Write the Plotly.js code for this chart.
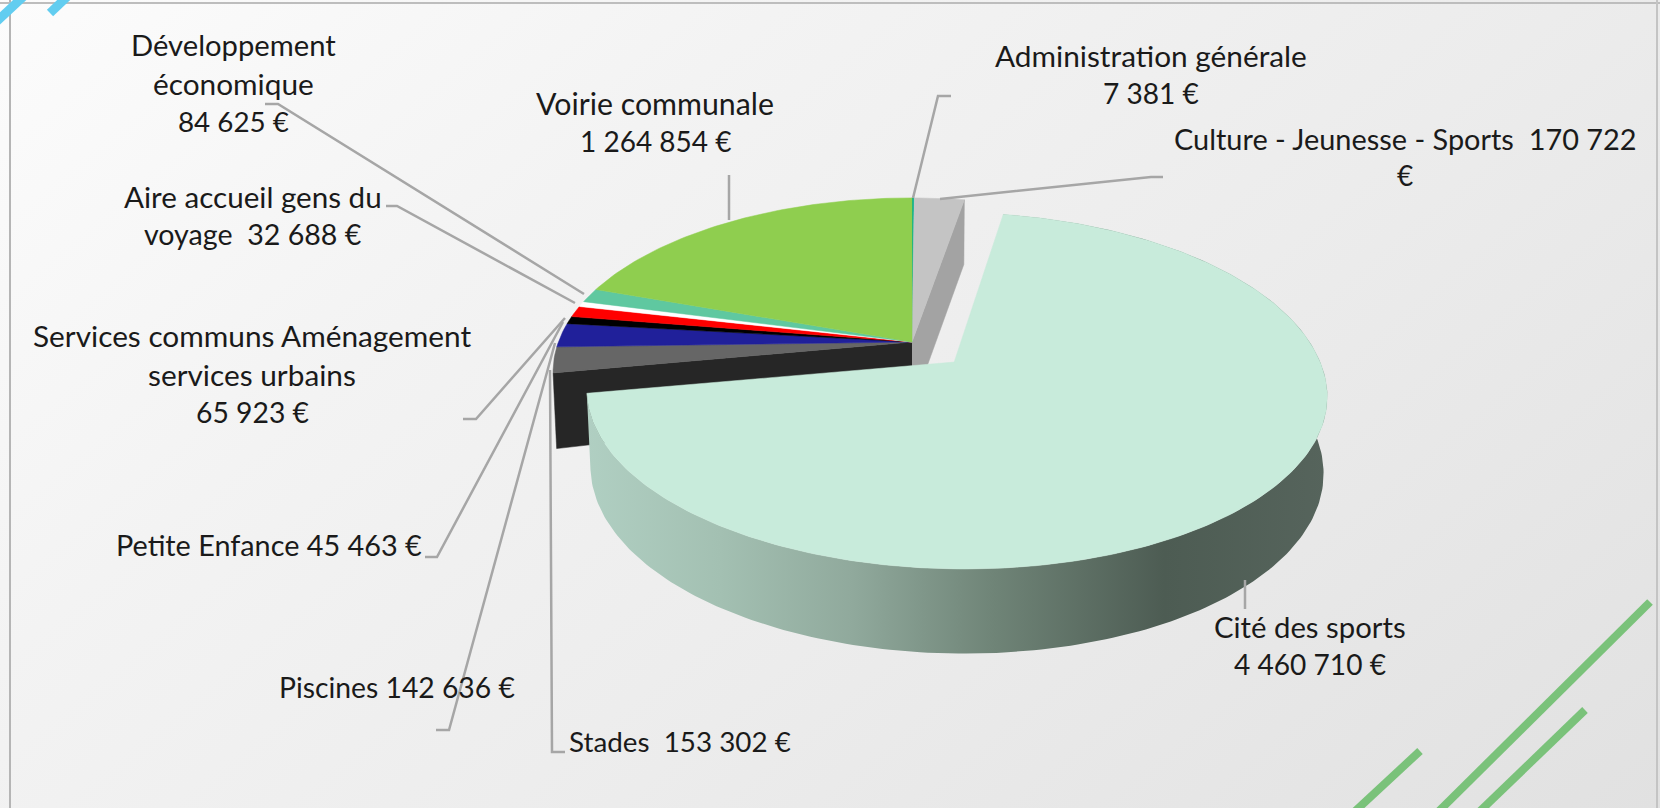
<!DOCTYPE html>
<html lang="fr">
<head>
<meta charset="utf-8">
<script src="https://cdn.plot.ly/plotly-3.0.1.min.js"></script>
<style>
html,body{margin:0;padding:0;width:1660px;height:808px;overflow:hidden;background:#fff}
#chart{width:1660px;height:808px;background:linear-gradient(140deg,#fcfcfc 0%,#f3f3f3 30%,#ececec 60%,#e1e1e1 100%)}
</style>
</head>
<body>
<div id="chart"></div>
<script>
// ---- chart values, clockwise from 12 o'clock ----
const categories = ["Administration générale","Culture - Jeunesse - Sports","Cité des sports","Stades","Piscines","Petite Enfance","Services communs Aménagement services urbains","Aire accueil gens du voyage","Développement économique","Voirie communale"];
const values = [7381,170722,4460710,153302,142636,45463,65923,32688,84625,1264854];
const sliceColors = ["#00b08c","#c4c4c4","#c8ebdb","#666666","#20209a","#000000","#ff0000","#ffffff","#5fc8a0","#8fce4f"];

// ---- label text lines; # stands for the formatted value ----
const labelLines = [
  ["Administration générale", "#"],
  ["Culture - Jeunesse - Sports\u00a0\u00a0#TOP", "€"],
  ["Cité des sports", "#"],
  ["Stades\u00a0\u00a0#"],
  ["Piscines #"],
  ["Petite Enfance #"],
  ["Services communs Aménagement", "services urbains", "#"],
  ["Aire accueil gens du", "voyage\u00a0\u00a0#"],
  ["Développement", "économique", "#"],
  ["Voirie communale", "#"]
];
const labelX = [1151,1405,1310,680,397,269,252,253,233,655];
const labelY = [[55,93],[138,175],[626,664],[741],[687],[545],[335,374,412],[196,234],[44,83,121],[103,141]];
const labelSize = [[29.8,28.1],[28.9,28],[29.3,28.1],[27.8],[28.3],[28.8],[29.8,29.8,28.3],[29.6,28.6],[29.2,29.8,27.8],[30.3,28]];

// ---- leader polylines (page layout) ----
const leaderX = [[951,938,913],[1163,1151,940],[1245,1245],[565,552,550],[436,449,555],[425,437,563],[463,476,565],[386,397,575],[265,278,584],[729,729]];
const leaderY = [[96,96,198],[177,177,199],[609,580],[752,752,370],[730,730,343],[557,557,322],[419,419,318],[206,206,303],[104,104,294],[175,220]];

// ---- 3D projection settings ----
const apexX = 912, apexY = 342, rimA = 353.6, rimB = 168.9, persp = 0.172, pullDist = 0.165;
const pulledIndex = 2;
const pulledScaleX = 1.0101, pulledCenterX = 957, pulledScaleFront = 0.97, wallInset = 0.99;
const font = "Lato, Carlito, Calibri, sans-serif";

const total = values.reduce((a, b) => a + b, 0);
const rad = d => d * Math.PI / 180;
const fmt = v => String(v).replace(/\B(?=(\d{3})+$)/g, "\u00a0") + "\u00a0€";

function project(u, v) {
  const den = 1 + persp * v;
  return [apexX + rimA * u / den, apexY - rimB * v / den];
}
function rimPoint(theta, du, dv) {
  return project(Math.sin(rad(theta)) + du, Math.cos(rad(theta)) + dv);
}
function depth(v) { return 74 - 9.5 * v; }
function arcAngles(a, b) {
  const out = [];
  const n = Math.max(2, Math.ceil((b - a)));
  for (let i = 0; i <= n; i++) out.push(a + (b - a) * i / n);
  return out;
}

// slice angles from the values
const angles = [];
let acc = 0;
values.forEach(v => { const s = acc / total * 360; acc += v; angles.push([s, acc / total * 360]); });

const traces = [];
const pulledMid = (angles[pulledIndex][0] + angles[pulledIndex][1]) / 2;
const du = pullDist * Math.sin(rad(pulledMid)), dv = pullDist * Math.cos(rad(pulledMid));

// cut faces of the rest of the pie, on both sides of the pulled slice
function cutFace(theta, color, name) {
  const p = rimPoint(theta, 0, 0);
  const v = Math.cos(rad(theta));
  traces.push({
    type: "scatter", mode: "lines", fill: "toself", fillcolor: color, line: {color: color, width: 0.5},
    x: [apexX, p[0], p[0] + (apexX - p[0]) * 0.01, apexX],
    y: [apexY, p[1], p[1] + depth(v), apexY + 66],
    hoverinfo: "skip", showlegend: false, name: name
  });
}
cutFace(angles[pulledIndex][0], "#a3a3a3", "face Culture");
cutFace(angles[pulledIndex][1], "#262626", "face Stades");

// top faces of the non-pulled slices
categories.forEach((c, i) => {
  if (i === pulledIndex) return;
  const xs = [apexX], ys = [apexY];
  arcAngles(angles[i][0], angles[i][1]).forEach(t => { const p = rimPoint(t, 0, 0); xs.push(p[0]); ys.push(p[1]); });
  xs.push(apexX); ys.push(apexY);
  traces.push({
    type: "scatter", mode: "lines", fill: "toself", fillcolor: sliceColors[i], line: {color: sliceColors[i], width: 0.5},
    x: xs, y: ys, name: c, text: fmt(values[i]), hoverinfo: "name+text", showlegend: false
  });
});

// pulled slice: outer wall and top face
(function () {
  const a = project(du, dv);
  const th = arcAngles(angles[pulledIndex][0], angles[pulledIndex][1]);
  const top = th.map(t => {
    const p = rimPoint(t, du, dv);
    const x = pulledCenterX + (p[0] - pulledCenterX + (957 - 955.5)) * pulledScaleX;
    const y = p[1] > a[1] ? a[1] + (p[1] - a[1]) * pulledScaleFront : p[1];
    return [x, y];
  });
  const bot = th.map((t, k) => {
    const v = Math.cos(rad(t)) + dv;
    const cx = apexX + rimA * du;
    return [cx + (top[k][0] - cx) * wallInset, top[k][1] + depth(v)];
  });
  traces.push({
    type: "scatter", mode: "lines", fill: "toself", line: {width: 0, color: "rgba(0,0,0,0)"},
    fillgradient: {type: "horizontal", start: 587, stop: 1327,
      colorscale: [[0, "#b0cfc2"], [0.18, "#a3c0b2"], [0.36, "#90a99c"], [0.55, "#6f8477"], [0.78, "#4d5c53"], [1, "#56645c"]]},
    x: top.map(p => p[0]).concat(bot.map(p => p[0]).reverse()),
    y: top.map(p => p[1]).concat(bot.map(p => p[1]).reverse()),
    hoverinfo: "skip", showlegend: false, name: "paroi"
  });
  traces.push({
    type: "scatter", mode: "lines", fill: "toself", fillcolor: sliceColors[pulledIndex], line: {color: sliceColors[pulledIndex], width: 0.5},
    x: [a[0]].concat(top.map(p => p[0]), [a[0]]),
    y: [a[1]].concat(top.map(p => p[1]), [a[1]]),
    name: categories[pulledIndex], text: fmt(values[pulledIndex]), hoverinfo: "name+text", showlegend: false
  });
})();

// leader lines
leaderX.forEach((lx, i) => traces.push({
  type: "scatter", mode: "lines", x: lx, y: leaderY[i],
  line: {color: "#a6a6a6", width: 2.5}, hoverinfo: "skip", showlegend: false
}));

// labels
const annotations = [];
labelLines.forEach((lines, i) => lines.forEach((ln, j) => {
  const txt = ln.replace("#TOP", String(values[i]).replace(/\B(?=(\d{3})+$)/g, "\u00a0")).replace("#", fmt(values[i]));
  annotations.push({
    xref: "x", yref: "y", x: labelX[i], y: labelY[i][j], text: txt, showarrow: false,
    xanchor: "center", yanchor: "middle", font: {family: font, size: labelSize[i][j], color: "#1a1a1a"}
  });
}));

// page decoration
const band = (x0, y0, x1, y1, color, w) => ({type: "line", layer: "below", xref: "x", yref: "y", x0, y0, x1, y1, line: {color, width: w}});
const shapes = [
  band(10, 0, 10, 808, "#b5b5b5", 2),
  band(0, 3, 1660, 3, "#bdbdbd", 2),
  band(1657, 0, 1657, 808, "#c4c4c4", 2),
  band(-4, 22, 24, -4, "#62cdf0", 9),
  band(50, 13, 70, -6, "#62cdf0", 9),
  band(1650, 602, 1435, 815, "#7ac27a", 8),
  band(1585, 710, 1476, 815, "#7ac27a", 8),
  band(1420, 751, 1351, 815, "#7ac27a", 8)
];

Plotly.newPlot("chart", traces, {
  width: 1660, height: 808,
  margin: {l: 0, r: 0, t: 0, b: 0},
  paper_bgcolor: "rgba(0,0,0,0)", plot_bgcolor: "rgba(0,0,0,0)",
  xaxis: {range: [0, 1660], visible: false, fixedrange: true},
  yaxis: {range: [808, 0], visible: false, fixedrange: true},
  showlegend: false, annotations, shapes
}, {displayModeBar: false, responsive: false});
</script>
</body>
</html>
